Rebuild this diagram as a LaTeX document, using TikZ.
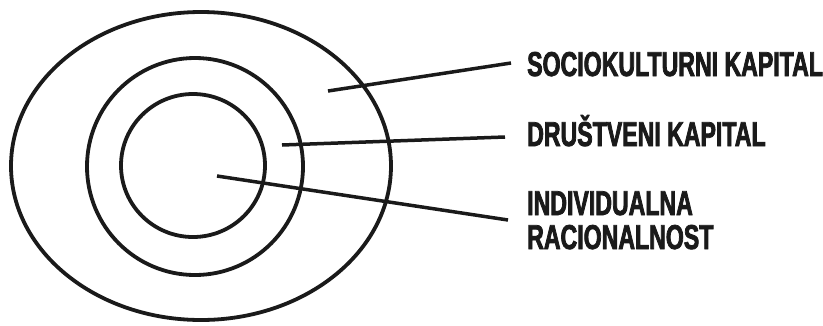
\documentclass[tikz,border=0pt]{standalone}
\usepackage{fontspec}
\usetikzlibrary{shapes.geometric}
\newfontfamily\lblfont[FakeStretch=0.67,FakeBold=2.2]{Liberation Sans Bold}
\definecolor{ink}{HTML}{1A1A1A}
\tikzset{
  ring/.style={ellipse, draw=ink, line width=3.8pt, inner sep=0pt, outer sep=0pt},
  lbl/.style={anchor=base west, inner sep=0pt, text=ink, font=\lblfont\fontsize{34.5}{36}\selectfont},
  leader/.style={draw=ink, line width=3.5pt}
}
\begin{document}
\begin{tikzpicture}[x=1pt,y=-1pt]
\useasboundingbox (0,0) rectangle (823,325);
\node[ring, minimum width=380pt, minimum height=308pt] (outer) at (201,166) {};
\node[ring, minimum width=216pt, minimum height=217pt] (middle) at (195,166.5) {};
\node[ring, minimum width=144pt, minimum height=143pt] (inner) at (193,165.5) {};
\node[lbl] (soc) at (527,76) {SOCIOKULTURNI KAPITAL};
\node[lbl] (dru) at (527,146) {DRUŠTVENI KAPITAL};
\node[lbl] (ind) at (527,215) {INDIVIDUALNA};
\node[lbl] (rac) at (527,249) {RACIONALNOST};
\coordinate (s1) at (328,91);
\coordinate (e1) at (511,63);
\coordinate (s2) at (282,145);
\coordinate (e2) at (505,137);
\coordinate (s3) at (217,176);
\coordinate (e3) at (508,220);
\draw[leader] (s1) -- (e1);
\draw[leader] (s2) -- (e2);
\draw[leader] (s3) -- (e3);
\end{tikzpicture}
\end{document}
